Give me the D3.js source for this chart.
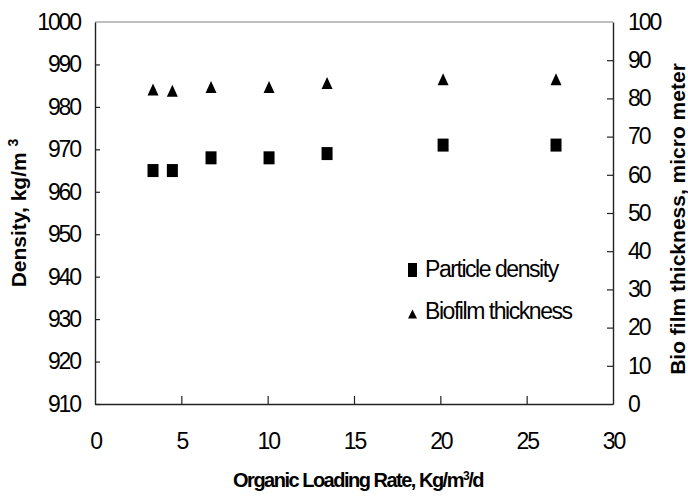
<!DOCTYPE html>
<html>
<head>
<meta charset="utf-8">
<script src="https://cdn.jsdelivr.net/npm/d3@7"></script>
<style>
  body { margin: 0; background: #fff; }
  svg text { font-family: "Liberation Sans", Arial, sans-serif; fill: #000; }
</style>
</head>
<body>
<div id="chart"></div>
<script>
// data
var loadingRate = [3.36, 4.48, 6.72, 10.08, 13.44, 20.16, 26.7];
var particleDensity = [965, 965, 968, 968, 969, 971, 971];
var biofilmThickness = [82.3, 82, 83, 83, 84, 85, 85];

var xTickValues = [0, 5, 10, 15, 20, 25, 30];
var densityTicks = [910, 920, 930, 940, 950, 960, 970, 980, 990, 1000];
var thicknessTicks = [0, 10, 20, 30, 40, 50, 60, 70, 80, 90, 100];

// size and margins
var margin = { top: 22, right: 75, bottom: 92, left: 95 },
  width = 688 - margin.left - margin.right,
  height = 496 - margin.top - margin.bottom;

var svg = d3.select("#chart")
  .append("svg")
  .attr("width", 688)
  .attr("height", 496);

var g = svg.append("g")
  .attr("transform", "translate(" + margin.left + "," + margin.top + ")");

var x = d3.scaleLinear().domain([0, 30]).range([0, width]);
var yLeft = d3.scaleLinear().domain([910, 1000]).range([height, 0]);
var yRight = d3.scaleLinear().domain([0, 100]).range([height, 0]);

// top frame line (grey)
g.append("line")
  .attr("x1", 0).attr("x2", width)
  .attr("y1", 0).attr("y2", 0)
  .attr("stroke", "#808080").attr("stroke-width", 1.2);

// axes (ticks pointing inside)
var xAxis = g.append("g")
  .attr("transform", "translate(0," + height + ")")
  .call(d3.axisBottom(x).tickValues(xTickValues).tickFormat(d3.format("d"))
    .tickSizeInner(-8).tickSizeOuter(0).tickPadding(29));

var leftAxis = g.append("g")
  .call(d3.axisLeft(yLeft).tickValues(densityTicks).tickFormat(d3.format("d"))
    .tickSizeInner(-5).tickSizeOuter(0).tickPadding(15));

var rightAxis = g.append("g")
  .attr("transform", "translate(" + width + ",0)")
  .call(d3.axisRight(yRight).tickValues(thicknessTicks).tickFormat(d3.format("d"))
    .tickSizeInner(-6).tickSizeOuter(0).tickPadding(15));

[xAxis, leftAxis, rightAxis].forEach(function (a) {
  a.select(".domain").attr("stroke", "#222").attr("stroke-width", 1.4);
  a.selectAll(".tick line").attr("stroke", "#222").attr("stroke-width", 1.2);
  a.selectAll(".tick text")
    .style("font-family", "Liberation Sans, Arial, sans-serif")
    .style("font-size", "23px")
    .style("letter-spacing", "-2.1px")
    .attr("fill", "#000");
});
// no ticks on the corners
leftAxis.selectAll(".tick line").filter(function (d) { return d === 1000; }).remove();
rightAxis.selectAll(".tick line").filter(function (d) { return d === 0 || d === 100; }).remove();
xAxis.selectAll(".tick line").filter(function (d) { return d === 0 || d === 30; }).remove();

// triangle path around a centre
function triangle(cx, cy, w, h) {
  return "M" + (cx - w / 2) + "," + (cy + h / 2) +
    "L" + cx + "," + (cy - h / 2) +
    "L" + (cx + w / 2) + "," + (cy + h / 2) + "Z";
}

// particle density squares
g.selectAll(".sq")
  .data(loadingRate)
  .enter().append("rect")
  .attr("x", function (d) { return x(d) - 5.5; })
  .attr("y", function (d, i) { return yLeft(particleDensity[i]) - 6.5; })
  .attr("width", 11)
  .attr("height", 13)
  .attr("fill", "#000");

// biofilm thickness triangles
g.selectAll(".tri")
  .data(loadingRate)
  .enter().append("path")
  .attr("d", function (d, i) { return triangle(x(d), yRight(biofilmThickness[i]), 11, 12); })
  .attr("fill", "#000");

// legend
var legend = svg.append("g");
legend.append("rect")
  .attr("x", 408).attr("y", 263).attr("width", 9).attr("height", 14)
  .attr("fill", "#000");
legend.append("text")
  .attr("x", 425).attr("y", 277)
  .style("font-size", "23px").style("letter-spacing", "-1.45px")
  .text("Particle density");
legend.append("path")
  .attr("d", triangle(412.5, 314, 9, 9))
  .attr("fill", "#000");
legend.append("text")
  .attr("x", 425).attr("y", 319)
  .style("font-size", "23px").style("letter-spacing", "-1.45px")
  .text("Biofilm thickness");

// axis titles
svg.append("text")
  .attr("transform", "translate(26," + (margin.top + height / 2) + ") rotate(-90)")
  .attr("text-anchor", "middle")
  .style("font-size", "21px").style("font-weight", "bold")
  .html("Density, kg/m <tspan dy='-8' font-size='14px'>3</tspan>");

svg.append("text")
  .attr("transform", "translate(685," + 219 + ") rotate(-90)")
  .attr("text-anchor", "middle")
  .style("font-size", "21px").style("font-weight", "bold")
  .text("Bio film thickness, micro meter");

svg.append("text")
  .attr("x", 358).attr("y", 487)
  .attr("text-anchor", "middle")
  .style("font-size", "20px").style("font-weight", "bold").style("letter-spacing", "-1.5px")
  .html("Organic Loading Rate, Kg/m<tspan dy='-7' font-size='12px'>3</tspan><tspan dy='7'>/d</tspan>");
</script>
</body>
</html>
